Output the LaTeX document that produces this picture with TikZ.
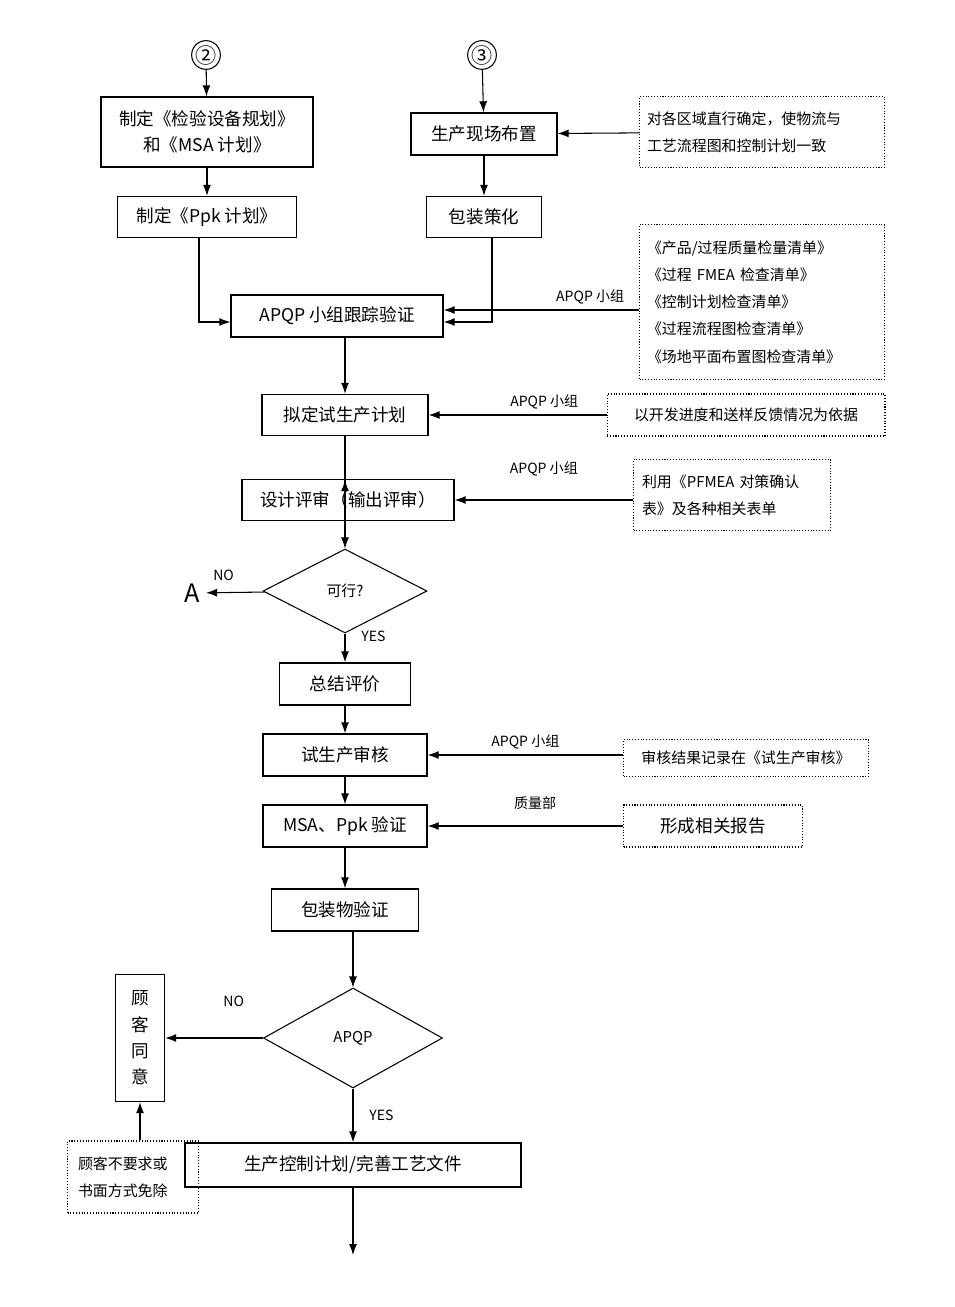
\documentclass[tikz,border=0pt]{standalone}
\usepackage{fontspec}
\setmainfont{Noto Sans CJK SC}
\usetikzlibrary{arrows.meta,shapes.geometric}
\tikzset{
    box/.style={draw,thick,align=center,inner sep=0pt,font=\fontsize{10}{15}\selectfont},
    note/.style={draw,densely dotted,align=left,inner sep=0pt,font=\fontsize{8.5}{15.5}\selectfont},
    dec/.style={draw,diamond,aspect=2,inner sep=0pt,font=\fontsize{8.5}{10}\selectfont},
    lbl/.style={font=\fontsize{8}{10}\selectfont},
    >={Latex[length=2.2mm,width=1.6mm]}
}
\begin{document}
\begin{tikzpicture}[x={(0.02cm,0)},y={(0,-0.02cm)},line width=0.6pt]
    \useasboundingbox (0,0) rectangle (955,1307);
    % top part
    \node[draw,circle,minimum size=0.52cm,inner sep=0pt,font=\large] (c2) at (206,55) {②};
    \node[draw,circle,minimum size=0.52cm,inner sep=0pt,font=\large] (c3) at (482,55) {③};
    \node[box,minimum width=4.24cm,minimum height=1.4cm] (plan) at (207,132) {制定《检验设备规划》\\和《MSA 计划》};
    \node[box,minimum width=3.58cm,minimum height=0.82cm] (ppk) at (207,217) {制定《Ppk 计划》};
    \node[box,minimum width=2.92cm,minimum height=0.84cm] (site) at (484,134) {生产现场布置};
    \node[note,minimum width=4.9cm,minimum height=1.42cm,text width=4.6cm] (siten) at (762,132) {对各区域直行确定，使物流与\\工艺流程图和控制计划一致};
    \node[box,minimum width=2.3cm,minimum height=0.82cm] (pack) at (484,217) {包装策化};
    \node[note,minimum width=4.9cm,minimum height=3.1cm,text width=4.6cm] (list) at (762,302) {《产品/过程质量检量清单》\\《过程 FMEA 检查清单》\\《控制计划检查清单》\\《过程流程图检查清单》\\《场地平面布置图检查清单》};
    \node[box,minimum width=4.24cm,minimum height=0.84cm] (track) at (337,316) {APQP 小组跟踪验证};
    \node[box,minimum width=3.32cm,minimum height=0.82cm] (trial) at (345,415) {拟定试生产计划};
    \node[note,minimum width=5.56cm,minimum height=0.84cm,align=center] (trialn) at (746,415) {以开发进度和送样反馈情况为依据};
    \node[box,minimum width=4.24cm,minimum height=0.82cm] (review) at (348,500) {设计评审（输出评审）};
    \node[note,minimum width=3.94cm,minimum height=1.42cm,text width=3.6cm] (reviewn) at (732,495) {利用《PFMEA 对策确认\\表》及各种相关表单};
    \node[dec,minimum width=3.28cm,minimum height=1.68cm] (ok) at (345,591) {可行?};
    \node[font=\Large] (A) at (192,593) {A};
    \node[box,minimum width=2.62cm,minimum height=0.84cm] (sum) at (345,684) {总结评价};
    \node[box,minimum width=3.28cm,minimum height=0.84cm] (audit) at (345,755) {试生产审核};
    \node[note,minimum width=4.9cm,minimum height=0.74cm,align=center] (auditn) at (746,758) {审核结果记录在《试生产审核》};
    \node[box,minimum width=3.28cm,minimum height=0.84cm] (msa) at (345,826) {MSA、Ppk 验证};
    \node[note,minimum width=3.58cm,minimum height=0.84cm,align=center,font=\fontsize{10}{12}\selectfont] (msan) at (713,826) {形成相关报告};
    \node[box,minimum width=2.94cm,minimum height=0.84cm] (packv) at (345,910) {包装物验证};
    \node[dec,minimum width=3.58cm,minimum height=2cm] (apqp) at (353,1038) {APQP};
    \node[box,minimum width=0.98cm,minimum height=2.54cm,text width=0.5cm] (agree) at (140,1038) {顾\\客\\同\\意};
    \node[box,minimum width=6.72cm,minimum height=0.88cm] (ctrl) at (353,1165) {生产控制计划/完善工艺文件};
    \node[note,minimum width=2.62cm,minimum height=1.44cm,text width=2.2cm] (agreen) at (133,1177) {顾客不要求或\\书面方式免除};
    \coordinate (end) at (353,1255);
    % connectors
    \draw[->] (c2) -- (plan);
    \draw[->] (c3) -- (site);
    \draw[->] (plan) -- (ppk);
    \draw[->] (siten) -- (site);
    \draw[->] (site) -- (pack);
    \draw[->] (ppk.south -| 199,0) |- (track.west |- 0,322);
    \draw[->] (pack.south -| 492,0) |- (track.east |- 0,322);
    \draw[->] (list.west |- 0,310) -- node[lbl,above,pos=0.25] {APQP 小组} (track.east |- 0,310);
    \draw[->] (track.south -| trial.north) -- (trial);
    \draw[->] (trialn) -- node[lbl,above,pos=0.35] {APQP 小组} (trial);
    \draw[->] (trial.south) -- (review.south -| trial.south) ++(0,-41) coordinate (t1);
    \draw[->] (reviewn.west |- review) -- node[lbl,above=0.35cm,pos=0.5] {APQP 小组} (review);
    \draw[->] (review.south -| ok.north) -- (ok);
    \draw[->] (ok) -- node[lbl,above=0.12cm,pos=0.7] {NO} (A);
    \draw[->] (ok) -- node[lbl,right=0.2cm,pos=0.1] {YES} (sum);
    \draw[->] (sum) -- (audit);
    \draw[->] (auditn.west |- audit) -- node[lbl,above,pos=0.5] {APQP 小组} (audit);
    \draw[->] (audit) -- (msa);
    \draw[->] (msan) -- node[lbl,above=0.2cm,pos=0.45] {质量部} (msa);
    \draw[->] (msa) -- (packv);
    \draw[->] (packv.south -| apqp.north) -- (apqp);
    \draw[->] (apqp) -- node[lbl,above=0.5cm,pos=0.3] {NO} (agree);
    \draw[->] (apqp) -- node[lbl,right=0.2cm,pos=0.5] {YES} (ctrl);
    \draw[->] (agreen.north -| agree) -- (agree);
    \draw[->] (ctrl) -- (end);
\end{tikzpicture}
\end{document}
